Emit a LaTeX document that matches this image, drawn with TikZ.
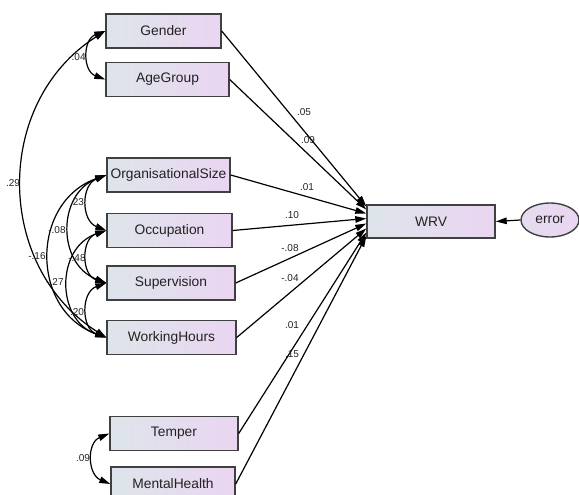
\documentclass[tikz,border=0pt]{standalone}
\usepackage{fontspec}
\setmainfont{Liberation Sans}
\usetikzlibrary{arrows.meta,shapes.geometric}
\definecolor{boxleft}{HTML}{DEE5EA}
\definecolor{boxright}{HTML}{EAD5F2}
\definecolor{edge}{HTML}{404040}
\definecolor{txt}{HTML}{222222}
\tikzset{
  var/.style={draw=edge, line width=1.4pt, left color=boxleft, right color=boxright,
    minimum height=34pt, inner sep=0pt, font=\fontsize{13.8}{14}\selectfont, text=txt},
  errnode/.style={ellipse, draw=edge, line width=1.4pt, left color=boxleft!40!boxright, right color=boxright,
    minimum width=58pt, minimum height=34pt, inner sep=0pt, font=\fontsize{13.8}{14}\selectfont, text=txt},
  pth/.style={line width=1.2pt, -{Triangle[length=11pt,width=6.5pt]}},
  cov/.style={line width=1.2pt, {Triangle[length=11pt,width=6.5pt]}-{Triangle[length=11pt,width=6.5pt]}},
  lab/.style={font=\fontsize{10}{11}\selectfont, text=txt, inner sep=0pt}
}
\begin{document}
\begin{tikzpicture}[x=1pt,y=-1pt]
\useasboundingbox (0,0) rectangle (579,495);
% boxes
\node[var, minimum width=115pt] (g) at (163.5,31) {Gender};
\node[var, minimum width=123pt] (a) at (167.5,79.5) {AgeGroup};
\node[var, minimum width=123pt] (o) at (168.5,175) {OrganisationalSize};
\node[var, minimum width=125pt] (oc) at (169.5,230.5) {Occupation};
\node[var, minimum width=128pt] (s) at (171,283) {Supervision};
\node[var, minimum width=129pt] (w) at (171.5,337.5) {WorkingHours};
\node[var, minimum width=128pt] (t) at (174,433.5) {Temper};
\node[var, minimum width=124pt] (m) at (173,484) {MentalHealth};
\node[var, minimum width=128pt, minimum height=33pt] (wrv) at (431,221.5) {WRV};
\node[errnode] (e) at (550,220) {error};
% paths to WRV
\draw[pth] (g.east) -- ([yshift=15pt]wrv.west);
\draw[pth] (a.east) -- ([yshift=12pt]wrv.west);
\draw[pth] (o.east) -- ([yshift=8pt]wrv.west);
\draw[pth] (oc.east) -- ([yshift=3pt]wrv.west);
\draw[pth] (s.east) -- ([yshift=-2pt]wrv.west);
\draw[pth] (w.east) -- ([yshift=-7pt]wrv.west);
\draw[pth] (t.east) -- ([yshift=-11pt]wrv.west);
\draw[pth] (m.east) -- ([yshift=-14.5pt]wrv.west);
\draw[pth] (e.west) -- (wrv.east);
% path labels
\node[lab] (l1) at (304,112) {.05};
\node[lab] (l2) at (308,140) {.09};
\node[lab] (l3) at (307,187) {.01};
\node[lab] (l4) at (292,215) {.10};
\node[lab] (l5) at (290,248) {-.08};
\node[lab] (l6) at (290,278) {-.04};
\node[lab] (l7) at (292,325) {.01};
\node[lab] (l8) at (292,354) {.15};
% covariances
\draw[cov] (g.west) .. controls +(-22.7,8.5) and +(-22.7,-8.5) .. (a.west);
\draw[cov] (g.west) .. controls +(-112,71) and +(-112,-71) .. (w.west);
\draw[cov] (o.west) .. controls +(-25.3,10) and +(-25.3,-10) .. (oc.west);
\draw[cov] (o.west) .. controls +(-49.3,19.1) and +(-49.3,-19.1) .. (s.west);
\draw[cov] (o.west) .. controls +(-76,27.2) and +(-76,-27.2) .. (w.west);
\draw[cov] (oc.west) .. controls +(-25.3,8.1) and +(-25.3,-8.1) .. (s.west);
\draw[cov] (oc.west) .. controls +(-50.7,17.2) and +(-50.7,-17.2) .. (w.west);
\draw[cov] (s.west) .. controls +(-25.3,9.1) and +(-25.3,-9.1) .. (w.west);
\draw[cov] (t.west) .. controls +(-22.7,9.5) and +(-22.7,-9.5) .. (m.west);
% covariance labels
\node[lab] (c1) at (77,57) {-.04};
\node[lab] (c2) at (13,183) {.29};
\node[lab] (c3) at (77,202) {.23};
\node[lab] (c4) at (57,230) {-.08};
\node[lab] (c5) at (37,256) {-.16};
\node[lab] (c6) at (77,258) {-.48};
\node[lab] (c7) at (55,282) {-.27};
\node[lab] (c8) at (77,312) {.20};
\node[lab] (c9) at (83,458) {.09};
\end{tikzpicture}
\end{document}
